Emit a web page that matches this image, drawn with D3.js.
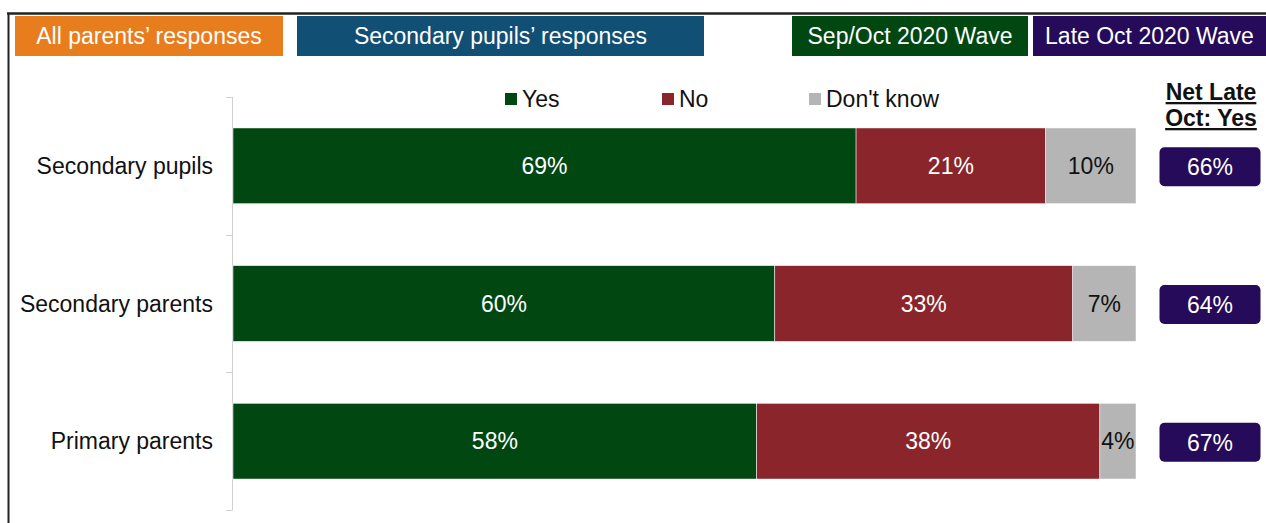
<!DOCTYPE html>
<html>
<head>
<meta charset="utf-8">
<script src="https://cdn.jsdelivr.net/npm/d3@7"></script>
<style>
  body { margin: 0; background: #fff; }
  text { font-family: "Liberation Sans", Arial, sans-serif; }
</style>
</head>
<body>
<div id="chart"></div>
<script>
// categories and series (percent)
var categories = ["Secondary pupils", "Secondary parents", "Primary parents"];
var seriesNames = ["Yes", "No", "Don't know"];
var yesVals = [69, 60, 58];
var noVals = [21, 33, 38];
var dkVals = [10, 7, 4];
var netLateOct = [66, 64, 67];
var headerLabels = ["All parents\u2019 responses", "Secondary pupils\u2019 responses", "Sep/Oct 2020 Wave", "Late Oct 2020 Wave"];

var W = 1266, H = 523;
var FS = 23;
var colors = { "Yes": "#004712", "No": "#8A262B", "Don't know": "#B5B5B5" };

var svg = d3.select("#chart").append("svg")
    .attr("width", W)
    .attr("height", H);

// frame lines
svg.append("line").attr("x1", 7).attr("x2", W).attr("y1", 13.5).attr("y2", 13.5)
    .attr("stroke", "#222").attr("stroke-width", 2.5);
svg.append("line").attr("x1", 8.5).attr("x2", 8.5).attr("y1", 13).attr("y2", H)
    .attr("stroke", "#222").attr("stroke-width", 2);

// header boxes
var headers = [
  {x: 15, w: 268, fill: "#E87D1E"},
  {x: 297, w: 407, fill: "#124F74"},
  {x: 792, w: 236, fill: "#004712"},
  {x: 1033, w: 233, fill: "#250B59"}
];
headers.forEach(function(h, i){
  svg.append("rect").attr("x", h.x).attr("y", 16).attr("width", h.w).attr("height", 40).attr("fill", h.fill);
  svg.append("text").attr("x", h.x + h.w / 2).attr("y", 36).attr("dy", "0.35em")
    .attr("text-anchor", "middle").attr("fill", "#fff").attr("font-size", FS)
    .text(headerLabels[i]);
});

// scales
var x = d3.scaleLinear().domain([0, 100]).range([233, 1136]);
var y = d3.scaleBand().domain(categories).range([97, 510]).paddingInner(0.45).paddingOuter(0.225);

// axis: band boundaries
var axisG = svg.append("g");
axisG.append("line").attr("x1", 232.5).attr("x2", 232.5).attr("y1", 97).attr("y2", 510)
    .attr("stroke", "#d0d0d0");
var bounds = [97].concat(categories.map(function(c, i){ return 97 + (i + 1) * y.step(); }));
axisG.selectAll(".tk").data(bounds).enter().append("line")
    .attr("x1", 226).attr("x2", 232.5)
    .attr("y1", function(d){ return Math.round(d) + 0.5; })
    .attr("y2", function(d){ return Math.round(d) + 0.5; })
    .attr("stroke", "#d0d0d0");

// category labels
svg.selectAll(".cat").data(categories).enter().append("text")
    .attr("x", 213).attr("y", function(d){ return y(d) + y.bandwidth() / 2; })
    .attr("dy", "0.35em").attr("text-anchor", "end")
    .attr("font-size", FS).attr("fill", "#111")
    .text(function(d){ return d; });

// stacked data
var table = categories.map(function(c, i){
  return {cat: c, "Yes": yesVals[i], "No": noVals[i], "Don't know": dkVals[i]};
});
var stacked = d3.stack().keys(seriesNames)(table);

var layers = svg.selectAll(".layer").data(stacked).enter().append("g")
    .attr("fill", function(d){ return colors[d.key]; });

layers.selectAll("rect").data(function(d){ return d.map(function(p){ p.key = d.key; return p; }); })
  .enter().append("rect")
    .attr("x", function(d){ return x(d[0]); })
    .attr("width", function(d){ return x(d[1]) - x(d[0]); })
    .attr("y", function(d){ return y(d.data.cat); })
    .attr("height", y.bandwidth())
    .attr("stroke", "#fff").attr("stroke-width", 0.5);

layers.selectAll("text").data(function(d){ return d.map(function(p){ p.key = d.key; return p; }); })
  .enter().append("text")
    .attr("x", function(d){ return (x(d[0]) + x(d[1])) / 2; })
    .attr("y", function(d){ return y(d.data.cat) + y.bandwidth() / 2; })
    .attr("dy", "0.35em").attr("text-anchor", "middle")
    .attr("font-size", FS)
    .attr("fill", function(d){ return d.key === "Don't know" ? "#111" : "#fff"; })
    .text(function(d){ return (d[1] - d[0]) + "%"; });

// legend
var legendX = [505, 662, 809];
seriesNames.forEach(function(s, i){
  svg.append("rect").attr("x", legendX[i]).attr("y", 93).attr("width", 12).attr("height", 12)
    .attr("fill", colors[s]);
  svg.append("text").attr("x", legendX[i] + 17).attr("y", 99).attr("dy", "0.35em")
    .attr("font-size", FS).attr("fill", "#111").text(s);
});

// net late oct column
var netG = svg.append("g");
["Net Late", "Oct: Yes"].forEach(function(t, i){
  netG.append("text").attr("x", 1211).attr("y", 100 + i * 26)
    .attr("text-anchor", "middle").attr("font-size", FS).attr("font-weight", "bold")
    .attr("fill", "#111").attr("text-decoration", "underline").text(t);
});
netG.selectAll(".net").data(netLateOct).enter().append("rect")
    .attr("x", 1159.5).attr("width", 101)
    .attr("y", function(d, i){ return y(categories[i]) + y.bandwidth() / 2 - 18.5; })
    .attr("height", 39).attr("rx", 5)
    .attr("fill", "#250B59");
netG.selectAll(".netT").data(netLateOct).enter().append("text")
    .attr("x", 1210)
    .attr("y", function(d, i){ return y(categories[i]) + y.bandwidth() / 2 + 1.5; })
    .attr("dy", "0.35em").attr("text-anchor", "middle")
    .attr("font-size", FS).attr("fill", "#fff")
    .text(function(d){ return d + "%"; });
</script>
</body>
</html>
